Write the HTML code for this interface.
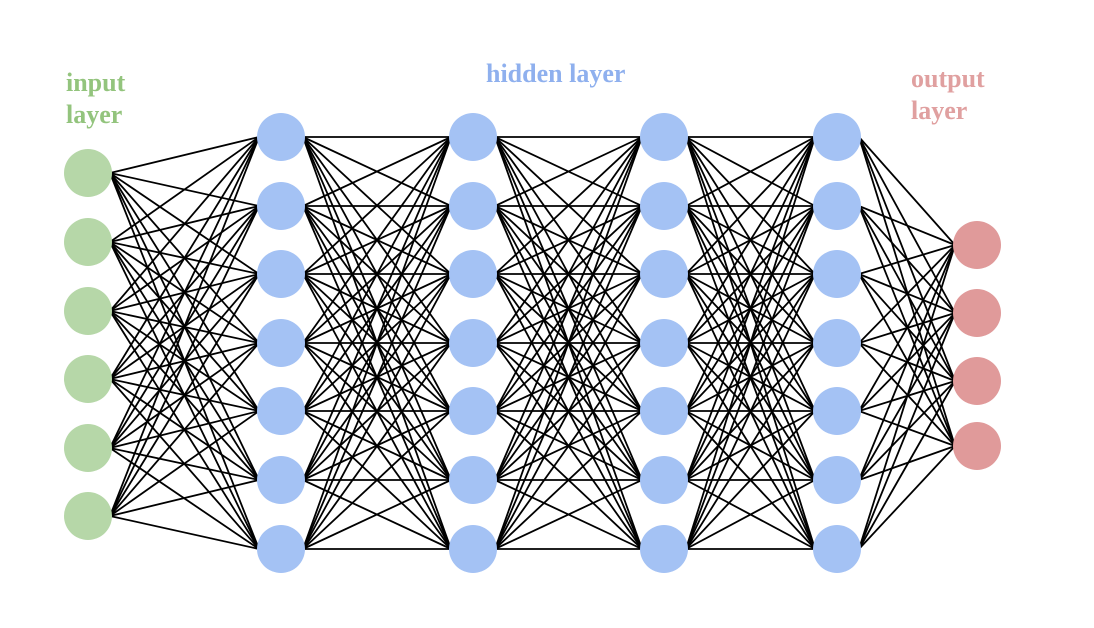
<!DOCTYPE html>
<html><head><meta charset="utf-8"><style>
html,body{margin:0;padding:0;background:#fff;width:1094px;height:628px;overflow:hidden}
svg{display:block}
text{font-family:"Liberation Serif",serif;font-weight:bold;font-size:26px}
</style></head><body>
<svg id="s" width="1094" height="628" xmlns="http://www.w3.org/2000/svg">
<g id="e" stroke="#000" stroke-width="1.8"></g>
<g id="n"></g>
<text x="66" y="91" fill="#93c47d">input</text>
<text x="66" y="123" fill="#93c47d">layer</text>
<text x="486" y="82" fill="#8fb0ee">hidden layer</text>
<text x="911" y="87" fill="#e0a0a0">output</text>
<text x="911" y="119" fill="#e0a0a0">layer</text>
</svg>
<script>
var H=[137,206,274,343,411,480,549];
var L=[{x:88,ys:[173,242,311,379,448,516],c:"#b6d7a8"},
{x:281,ys:H,c:"#a4c2f4"},{x:473,ys:H,c:"#a4c2f4"},{x:664,ys:H,c:"#a4c2f4"},{x:837,ys:H,c:"#a4c2f4"},
{x:977,ys:[245,313,381,446],c:"#e09a9a"}];
var ns="http://www.w3.org/2000/svg",e=document.getElementById("e"),n=document.getElementById("n");
for(var i=0;i<L.length-1;i++){var a=L[i],b=L[i+1];
a.ys.forEach(function(y1){b.ys.forEach(function(y2){var l=document.createElementNS(ns,"line");
l.setAttribute("x1",a.x+22);l.setAttribute("y1",y1);l.setAttribute("x2",b.x-22);l.setAttribute("y2",y2);e.appendChild(l);});});}
L.forEach(function(a){a.ys.forEach(function(y){var c=document.createElementNS(ns,"circle");
c.setAttribute("cx",a.x);c.setAttribute("cy",y);c.setAttribute("r",24);c.setAttribute("fill",a.c);n.appendChild(c);});});
</script>
</body></html>
